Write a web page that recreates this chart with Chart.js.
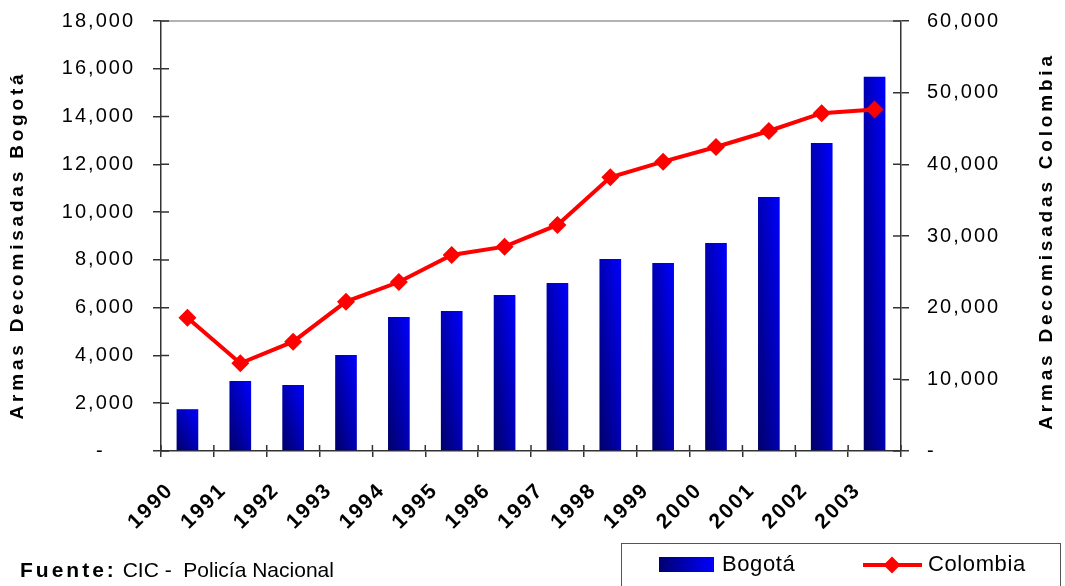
<!DOCTYPE html>
<html>
<head>
<meta charset="utf-8">
<script src="https://cdn.jsdelivr.net/npm/chart.js@4.4.1/dist/chart.umd.min.js"></script>
<style>
  html, body { margin: 0; padding: 0; background: #fff; }
  #wrap { position: relative; width: 1065px; height: 586px; overflow: hidden;
          font-family: "Liberation Sans", Arial, sans-serif; color: #000; }
  #wrap canvas { position: absolute; left: 0; top: 0; }
  #fuente { position: absolute; left: 20px; top: 559px; font-size: 21px; line-height: 21px; white-space: pre; }
  #fuente b { letter-spacing: 3px; }
  #legend { position: absolute; left: 621px; top: 543px; width: 440px; height: 70px;
            border: 1px solid #555; box-sizing: border-box; }
  .sw { position: absolute; left: 659px; top: 557px; width: 55px; height: 15px;
        background: linear-gradient(to right, #000070, #0000ff); }
  .lg { position: absolute; top: 553px; font-size: 22px; line-height: 22px; letter-spacing: 0.6px; white-space: pre; }
  .ln { position: absolute; left: 863px; top: 563px; width: 59px; height: 4px; background: #ff0000; }
  .dm { position: absolute; left: 886px; top: 559px; width: 12px; height: 12px; background: #ff0000; transform: rotate(45deg); }
</style>
</head>
<body>
<div id="wrap">
  <canvas id="chart" width="1065" height="586"></canvas>
  <div id="fuente"><b>Fuente:</b> CIC -  Policía Nacional</div>
  <div id="legend"></div>
  <div class="sw"></div>
  <div class="lg" style="left:722px">Bogotá</div>
  <div class="ln"></div>
  <div class="dm"></div>
  <div class="lg" style="left:928px">Colombia</div>
</div>
<script>
const years = ["1990", "1991", "1992", "1993", "1994", "1995", "1996", "1997", "1998", "1999", "2000", "2001", "2002", "2003"]
const bogota = [1750, 2930, 2760, 4020, 5610, 5860, 6530, 7030, 8040, 7870, 8710, 10630, 12890, 15670]
const colombia = [18600, 12240, 15260, 20840, 23580, 27350, 28510, 31540, 38190, 40370, 42420, 44650, 47140, 47650]
const leftMax = 18000
const leftStep = 2000
const rightMax = 60000
const rightStep = 10000
const leftTitle = "Armas Decomisadas Bogotá"
const rightTitle = "Armas Decomisadas Colombia"

const FONT = '"Liberation Sans", Arial, sans-serif'
const barPct = 0.41

// diagonal gradient per bar: dark bottom-left, bright top-right
function barFill(c) {
  const chart = c.chart
  const x = chart.scales.x, y = chart.scales.y
  if (!chart.chartArea || c.type !== "data" || !x || !y) return "#0000c0"
  const cx = x.getPixelForValue(c.dataIndex)
  const w = (x.width / years.length) * barPct
  const x0 = cx - w / 2
  const yTop = y.getPixelForValue(c.raw)
  const yBot = y.getPixelForValue(0)
  const h = Math.max(1, yBot - yTop)
  const t = (2 * w * h) / (w * w + h * h)
  const g = chart.ctx.createLinearGradient(x0, yBot, x0 + t * h, yBot - t * w)
  g.addColorStop(0, "#000068")
  g.addColorStop(1, "#0000ff")
  return g
}

function fmt(v) {
  return Number(v).toLocaleString("en-US")
}

const decor = {
  id: "decor",
  beforeDraw(chart) {
    chart.ctx.letterSpacing = "2px"
  },
  afterDraw(chart) {
    const { ctx, chartArea: a, scales } = chart
    ctx.save()
    ctx.letterSpacing = "0px"
    // top frame line
    ctx.strokeStyle = "#999"
    ctx.lineWidth = 1.5
    ctx.beginPath()
    ctx.moveTo(a.left, a.top)
    ctx.lineTo(a.right, a.top)
    ctx.stroke()
    // inner halves of the tick marks
    ctx.strokeStyle = "#333"
    ctx.beginPath()
    scales.y.ticks.forEach((t) => {
      const p = scales.y.getPixelForValue(t.value)
      ctx.moveTo(a.left, p)
      ctx.lineTo(a.left + 8, p)
    })
    scales.y1.ticks.forEach((t) => {
      const p = scales.y1.getPixelForValue(t.value)
      ctx.moveTo(a.right - 8, p)
      ctx.lineTo(a.right, p)
    })
    const step = a.width / years.length
    for (let i = 0; i <= years.length; i++) {
      const p = a.left + i * step
      ctx.moveTo(p, a.bottom - 6)
      ctx.lineTo(p, a.bottom)
    }
    ctx.stroke()
    // axis titles, both read bottom to top
    ctx.fillStyle = "#000"
    ctx.font = "bold 19px " + FONT
    ctx.textAlign = "center"
    ctx.textBaseline = "middle"
    ctx.letterSpacing = "3.8px"
    ;[[leftTitle, 18, 245], [rightTitle, 1047, 241]].forEach(([txt, x, y]) => {
      ctx.save()
      ctx.translate(x, y)
      ctx.rotate(-Math.PI / 2)
      ctx.fillText(txt, 0, 0)
      ctx.restore()
    })
    ctx.restore()
  },
}

const axisLine = { display: true, color: "#333", width: 1.5 }

function fixSize(prop, size) {
  return (s) => {
    s[prop] = size
    s.paddingTop = 0
    s.paddingBottom = 0
    s.paddingLeft = 0
    s.paddingRight = 0
  }
}

new Chart(document.getElementById("chart"), {
  type: "bar",
  data: {
    labels: years,
    datasets: [
      {
        type: "line",
        label: "Colombia",
        data: colombia,
        yAxisID: "y1",
        borderColor: "#ff0000",
        backgroundColor: "#ff0000",
        borderWidth: 4,
        pointStyle: "rectRot",
        pointRadius: 9,
        pointBorderWidth: 0,
        tension: 0,
        order: 0,
      },
      {
        label: "Bogotá",
        data: bogota,
        yAxisID: "y",
        backgroundColor: barFill,
        barPercentage: barPct,
        categoryPercentage: 1,
        order: 1,
      },
    ],
  },
  options: {
    responsive: false,
    animation: false,
    layout: { padding: { top: 21, left: 0, right: 0, bottom: 0 } },
    plugins: { legend: { display: false }, tooltip: { enabled: false } },
    scales: {
      x: {
        offset: true,
        grid: { offset: true, drawOnChartArea: false, drawTicks: true, tickLength: 6, color: "#333", lineWidth: 1.5 },
        border: axisLine,
        ticks: {
          autoSkip: false,
          minRotation: 45,
          maxRotation: 45,
          padding: 21,
          labelOffset: -17,
          color: "#000",
          font: { family: FONT, size: 21, weight: "bold" },
        },
        afterFit: fixSize("height", 135),
      },
      y: {
        position: "left",
        min: 0,
        max: leftMax,
        grid: { drawOnChartArea: false, tickLength: 8, color: "#333", lineWidth: 1.5 },
        border: axisLine,
        ticks: {
          stepSize: leftStep,
          padding: 18,
          color: "#000",
          font: { family: FONT, size: 20 },
          callback: (v) => (v === 0 ? "-    " : fmt(v)),
        },
        afterFit: fixSize("width", 161),
      },
      y1: {
        position: "right",
        min: 0,
        max: rightMax,
        grid: { drawOnChartArea: false, tickLength: 8, color: "#333", lineWidth: 1.5 },
        border: axisLine,
        ticks: {
          stepSize: rightStep,
          padding: 18,
          color: "#000",
          font: { family: FONT, size: 20 },
          callback: (v) => (v === 0 ? "-" : fmt(v)),
        },
        afterFit: fixSize("width", 164),
      },
    },
  },
  plugins: [decor],
})
</script>
</body>
</html>
